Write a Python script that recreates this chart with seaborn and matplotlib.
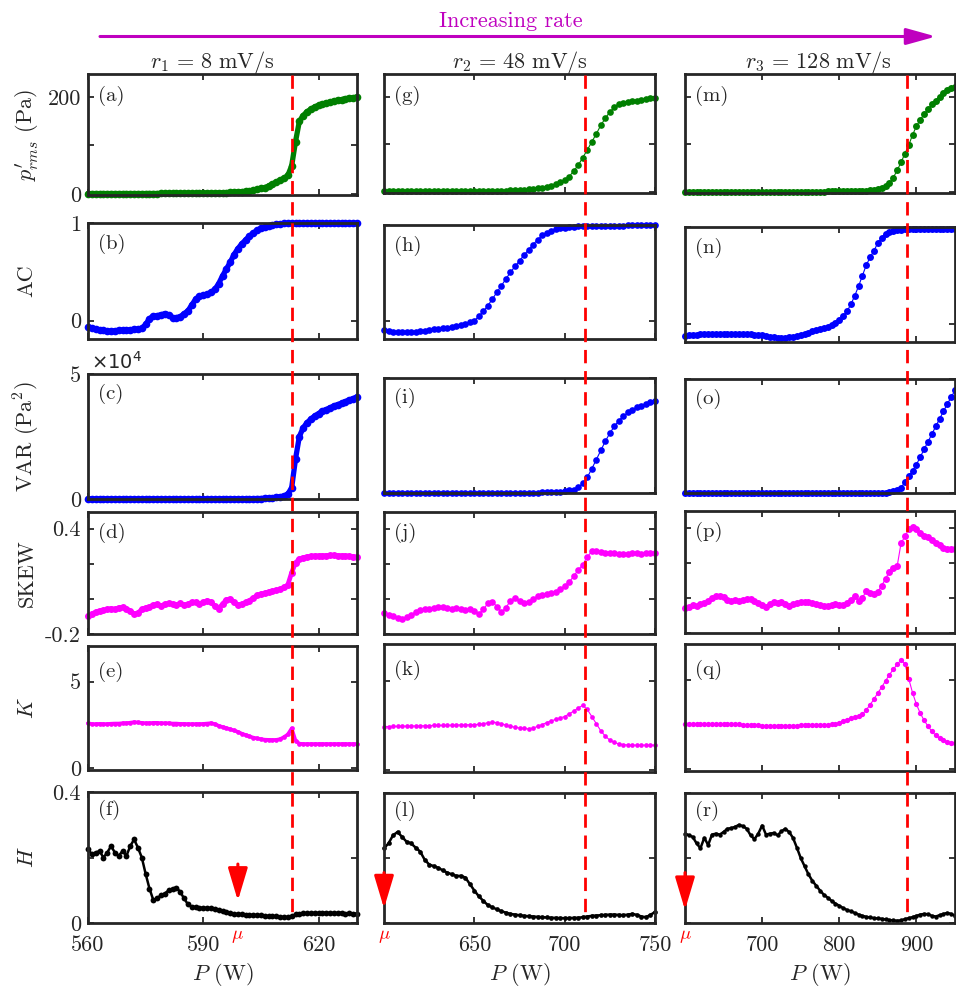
import numpy as np
import matplotlib
matplotlib.use('Agg')
import matplotlib.pyplot as plt
import matplotlib.transforms as mtransforms
from matplotlib.lines import Line2D
from matplotlib.patches import FancyArrowPatch
import seaborn as sns

# ---------------- data ----------------
# column 1 : r1 = 8 mV/s, P sampled every 1 W
P1 = np.arange(560, 631, 1.0)
PRMS1 = [0.5, 0.5, 0.5, 0.5, 0.5, 0.5, 0.5, 0.5, 0.5, 0.5,
         0.5, 0.5, 0.5, 0.5, 0.5, 0.5, 0.6, 0.6, 0.6, 0.7,
         0.7, 0.7, 0.8, 0.8, 0.8, 0.9, 0.9, 1.0, 1.0, 1.0,
         1.0, 1.0, 1.0, 1.5, 2, 2, 2.5, 3, 3.5, 4,
         4.5, 5, 6, 7, 9, 11, 13, 16, 20, 24,
         28, 32, 38, 58, 108, 150, 162, 170, 175, 180,
         183, 186, 188, 190, 192, 194, 195, 197, 198, 199,
         200]
AC1 = [-0.07, -0.08, -0.09, -0.095, -0.10, -0.11, -0.11, -0.105, -0.10, -0.10,
       -0.10, -0.095, -0.09, -0.09, -0.08, -0.04, 0.02, 0.045, 0.05, 0.06,
       0.07, 0.06, 0.03, 0.03, 0.04, 0.07, 0.10, 0.16, 0.22, 0.25,
       0.26, 0.27, 0.29, 0.32, 0.38, 0.46, 0.53, 0.60, 0.68, 0.74,
       0.79, 0.83, 0.87, 0.90, 0.93, 0.95, 0.96, 0.975, 0.985, 0.99,
       0.995, 1, 1, 1, 1, 1, 1, 1, 1, 1,
       1, 1, 1, 1, 1, 1, 1, 1, 1, 1,
       1]
VAR1_E4 = [0, 0, 0, 0, 0, 0, 0, 0, 0, 0,
           0, 0, 0, 0, 0, 0, 0, 0, 0, 0,
           0, 0, 0, 0, 0, 0, 0, 0, 0, 0,
           0, 0, 0, 0, 0, 0.005, 0.005, 0.005, 0.01, 0.01,
           0.01, 0.01, 0.015, 0.015, 0.02, 0.02, 0.03, 0.04, 0.05, 0.07,
           0.09, 0.12, 0.2, 0.45, 1.6, 2.5, 2.85, 3.05, 3.2, 3.32,
           3.42, 3.52, 3.58, 3.65, 3.72, 3.78, 3.83, 3.9, 3.96, 4.02,
           4.08]
SKEW1 = [-0.095, -0.085, -0.075, -0.067, -0.065, -0.06, -0.055, -0.06, -0.05, -0.048,
         -0.055, -0.07, -0.085, -0.08, -0.06, -0.05, -0.045, -0.035, -0.03, -0.04,
         -0.03, -0.025, -0.03, -0.035, -0.025, -0.035, -0.03, -0.02, -0.02, -0.03,
         -0.02, -0.01, -0.02, -0.04, -0.055, -0.03, -0.005, 0.0, -0.02, -0.035,
         -0.03, -0.02, -0.01, 0.005, 0.02, 0.028, 0.032, 0.04, 0.045, 0.048,
         0.055, 0.065, 0.08, 0.15, 0.205, 0.228, 0.235, 0.24, 0.242, 0.245,
         0.245, 0.246, 0.247, 0.248, 0.248, 0.247, 0.246, 0.245, 0.244, 0.24,
         0.238]
K1 = [2.6, 2.55, 2.55, 2.56, 2.55, 2.55, 2.57, 2.58, 2.58, 2.6,
      2.6, 2.63, 2.66, 2.64, 2.62, 2.6, 2.6, 2.62, 2.62, 2.6,
      2.6, 2.6, 2.58, 2.58, 2.56, 2.56, 2.55, 2.55, 2.55, 2.55,
      2.56, 2.58, 2.6, 2.55, 2.45, 2.38, 2.32, 2.25, 2.18, 2.1,
      2.0, 1.92, 1.84, 1.77, 1.72, 1.68, 1.65, 1.64, 1.63, 1.64,
      1.68, 1.8, 1.95, 2.3, 1.6, 1.42, 1.40, 1.40, 1.40, 1.40,
      1.40, 1.40, 1.40, 1.40, 1.40, 1.40, 1.40, 1.40, 1.40, 1.40,
      1.40]
H1 = [0.226, 0.21, 0.215, 0.22, 0.2, 0.215, 0.235, 0.215, 0.205, 0.22,
      0.205, 0.235, 0.255, 0.23, 0.2, 0.15, 0.105, 0.07, 0.075, 0.085,
      0.09, 0.1, 0.105, 0.108, 0.095, 0.075, 0.057, 0.05, 0.048, 0.047,
      0.046, 0.046, 0.045, 0.042, 0.04, 0.036, 0.033, 0.03, 0.028, 0.027,
      0.026, 0.025, 0.025, 0.024, 0.024, 0.023, 0.022, 0.021, 0.02, 0.02,
      0.019, 0.018, 0.018, 0.02, 0.027, 0.029, 0.03, 0.03, 0.03, 0.031,
      0.03, 0.031, 0.032, 0.03, 0.031, 0.03, 0.032, 0.029, 0.03, 0.029,
      0.028]

# column 2 : r2 = 48 mV/s, P sampled every 2.5 W
P2 = np.arange(600, 750.1, 2.5)
PRMS2 = [1, 1, 1, 1, 1, 1, 1, 1, 1, 1,
         1, 1, 1, 1, 1, 1, 1, 1.2, 1.2, 1.3,
         1.3, 1.4, 1.5, 1.6, 1.8, 2, 2.3, 2.6, 3, 3.5,
         4, 4.5, 5, 6, 7, 8.5, 10, 12, 16, 20,
         24, 32, 44, 56, 72, 88, 105, 122, 140, 155,
         168, 178, 184, 188, 190, 191, 192, 193, 195, 197,
         198]
AC2 = [-0.10, -0.11, -0.115, -0.12, -0.12, -0.12, -0.118, -0.115, -0.11, -0.105,
       -0.10, -0.09, -0.085, -0.075, -0.07, -0.06, -0.055, -0.045, -0.03, -0.015,
       0.0, 0.05, 0.10, 0.16, 0.23, 0.30, 0.37, 0.44, 0.51, 0.57,
       0.63, 0.69, 0.745, 0.80, 0.85, 0.895, 0.925, 0.945, 0.96, 0.97,
       0.978, 0.984, 0.988, 0.99, 0.993, 0.995, 0.996, 0.997, 0.998, 0.998,
       0.998, 0.999, 0.999, 0.999, 1, 1, 1, 1, 1, 1,
       1]
VAR2_E4 = [0, 0, 0, 0, 0, 0, 0, 0, 0, 0,
           0, 0, 0, 0, 0, 0, 0, 0, 0, 0,
           0, 0, 0, 0, 0, 0, 0, 0, 0.005, 0.005,
           0.005, 0.01, 0.01, 0.015, 0.02, 0.025, 0.03, 0.04, 0.05, 0.06,
           0.08, 0.11, 0.15, 0.25, 0.42, 0.68, 1.05, 1.45, 1.85, 2.25,
           2.6, 2.9, 3.15, 3.35, 3.5, 3.62, 3.72, 3.8, 3.87, 3.94,
           4.0]
SKEW2 = [-0.08, -0.09, -0.10, -0.11, -0.112, -0.105, -0.09, -0.075, -0.065, -0.06,
         -0.058, -0.05, -0.045, -0.048, -0.05, -0.055, -0.05, -0.058, -0.062, -0.06,
         -0.07, -0.085, -0.06, -0.025, -0.015, -0.045, -0.075, -0.05, -0.01, 0.005,
         -0.01, -0.025, -0.02, 0.0, 0.015, 0.022, 0.028, 0.032, 0.04, 0.055,
         0.075, 0.095, 0.13, 0.165, 0.195, 0.24, 0.27, 0.275, 0.268, 0.263,
         0.26, 0.262, 0.258, 0.256, 0.257, 0.26, 0.262, 0.258, 0.26, 0.261,
         0.261]
K2 = [2.44, 2.44, 2.45, 2.45, 2.46, 2.46, 2.47, 2.47, 2.48, 2.48,
      2.49, 2.50, 2.50, 2.50, 2.51, 2.51, 2.52, 2.53, 2.53, 2.54,
      2.55, 2.56, 2.60, 2.65, 2.68, 2.66, 2.60, 2.52, 2.45, 2.40,
      2.36, 2.33, 2.31, 2.35, 2.45, 2.55, 2.66, 2.75, 2.84, 2.92,
      3.0, 3.15, 3.3, 3.48, 3.62, 3.4, 3.0, 2.6, 2.2, 1.9,
      1.68, 1.55, 1.47, 1.43, 1.41, 1.40, 1.40, 1.40, 1.40, 1.40,
      1.40]
H2 = [0.23, 0.245, 0.27, 0.28, 0.265, 0.25, 0.245, 0.232, 0.22, 0.195,
      0.18, 0.175, 0.17, 0.162, 0.155, 0.15, 0.145, 0.145, 0.14, 0.12,
      0.10, 0.082, 0.068, 0.055, 0.048, 0.042, 0.036, 0.032, 0.028, 0.026,
      0.024, 0.022, 0.021, 0.02, 0.019, 0.018, 0.017, 0.016, 0.016, 0.015,
      0.015, 0.015, 0.016, 0.016, 0.018, 0.02, 0.022, 0.023, 0.024, 0.025,
      0.026, 0.026, 0.025, 0.024, 0.026, 0.028, 0.025, 0.02, 0.018, 0.025,
      0.034]

# column 3 : r3 = 128 mV/s, P sampled every 5 W
P3 = np.arange(600, 950.1, 5.0)
PRMS3 = [0.5, 0.5, 0.5, 0.5, 0.5, 0.5, 0.5, 0.5, 0.5, 0.5,
         0.5, 0.5, 0.5, 0.5, 0.5, 0.5, 0.5, 0.5, 0.5, 0.5,
         0.5, 0.5, 0.5, 0.5, 0.5, 0.5, 0.5, 0.5, 0.5, 0.5,
         0.5, 0.5, 0.5, 0.5, 0.5, 0.6, 0.6, 0.7, 0.7, 0.8,
         0.8, 0.9, 1, 1, 1, 1, 1.5, 2, 3, 4,
         6, 8, 12, 18, 30, 45, 62, 80, 98, 120,
         138, 152, 163, 174, 184, 192, 200, 208, 214, 218,
         221]
AC3 = [-0.125, -0.122, -0.118, -0.115, -0.112, -0.11, -0.11, -0.108, -0.106, -0.105,
       -0.104, -0.104, -0.104, -0.104, -0.105, -0.106, -0.108, -0.11, -0.113, -0.117,
       -0.122, -0.128, -0.135, -0.14, -0.145, -0.147, -0.145, -0.14, -0.133, -0.128,
       -0.12, -0.11, -0.095, -0.08, -0.068, -0.055, -0.045, -0.03, -0.015, 0.005,
       0.035, 0.08, 0.13, 0.2, 0.29, 0.39, 0.5, 0.61, 0.69, 0.76,
       0.84, 0.89, 0.935, 0.955, 0.965, 0.97, 0.975, 0.98, 0.98, 0.98,
       0.98, 0.98, 0.98, 0.98, 0.98, 0.98, 0.98, 0.98, 0.98, 0.98,
       0.98]
VAR3_E4 = [0, 0, 0, 0, 0, 0, 0, 0, 0, 0,
           0, 0, 0, 0, 0, 0, 0, 0, 0, 0,
           0, 0, 0, 0, 0, 0, 0, 0, 0, 0,
           0, 0, 0, 0, 0, 0, 0, 0, 0, 0,
           0, 0, 0, 0, 0, 0, 0, 0, 0.005, 0.005,
           0.005, 0.01, 0.02, 0.04, 0.07, 0.12, 0.22, 0.48, 0.75, 0.97,
           1.25, 1.58, 1.92, 2.25, 2.58, 2.92, 3.25, 3.58, 3.9, 4.2,
           4.5]
SKEW3 = [-0.055, -0.05, -0.04, -0.045, -0.035, -0.03, -0.02, 0.0, 0.01, 0.012,
         0.005, -0.01, -0.015, -0.01, -0.015, -0.01, -0.005, -0.008, -0.02, -0.03,
         -0.04, -0.05, -0.035, -0.025, -0.03, -0.025, -0.035, -0.045, -0.035, -0.03,
         -0.025, -0.022, -0.025, -0.03, -0.035, -0.04, -0.045, -0.045, -0.04, -0.035,
         -0.04, -0.04, -0.03, -0.01, 0.01, -0.02, 0.0, 0.04, 0.03, 0.025,
         0.035, 0.07, 0.11, 0.15, 0.17, 0.18, 0.31, 0.35, 0.39, 0.405,
         0.39, 0.37, 0.355, 0.345, 0.33, 0.315, 0.30, 0.285, 0.278, 0.277,
         0.278]
K3 = [2.52, 2.53, 2.54, 2.54, 2.55, 2.55, 2.56, 2.56, 2.56, 2.55,
      2.55, 2.54, 2.54, 2.53, 2.52, 2.51, 2.50, 2.49, 2.48, 2.47,
      2.46, 2.45, 2.44, 2.44, 2.44, 2.44, 2.45, 2.45, 2.46, 2.46,
      2.47, 2.47, 2.48, 2.48, 2.49, 2.49, 2.50, 2.50, 2.52, 2.56,
      2.62, 2.70, 2.79, 2.86, 2.92, 2.97, 3.10, 3.35, 3.63, 3.95,
      4.30, 4.62, 4.98, 5.32, 5.62, 5.90, 6.15, 5.95, 5.10, 4.30,
      3.65, 3.15, 2.75, 2.42, 2.13, 1.90, 1.74, 1.62, 1.55, 1.50,
      1.47]
H3 = [0.275, 0.27, 0.265, 0.245, 0.23, 0.262, 0.24, 0.272, 0.275, 0.272,
      0.28, 0.29, 0.292, 0.296, 0.302, 0.298, 0.29, 0.27, 0.258, 0.275,
      0.30, 0.272, 0.275, 0.277, 0.27, 0.282, 0.29, 0.28, 0.262, 0.232,
      0.20, 0.175, 0.15, 0.13, 0.115, 0.10, 0.087, 0.078, 0.068, 0.06,
      0.053, 0.046, 0.04, 0.036, 0.031, 0.026, 0.022, 0.019, 0.017, 0.015,
      0.014, 0.013, 0.011, 0.009, 0.008, 0.007, 0.008, 0.012, 0.015, 0.018,
      0.022, 0.026, 0.028, 0.027, 0.022, 0.02, 0.024, 0.028, 0.031, 0.028,
      0.022]

# critical points (dashed lines) and early-warning onsets (mu arrows)
P_CRIT = [613.2, 711.5, 888.0]
P_MU = [599.0, 600.0, 600.0]
MU_ARROW = [(0.18, 0.068), (0.155, 0.045), (0.155, 0.040)]

COL_TITLES = [r'$r_1\,=\,8\ \mathrm{mV/s}$', r'$r_2\,=\,48\ \mathrm{mV/s}$',
              r'$r_3\,=\,128\ \mathrm{mV/s}$']
ROW_LABELS = [r"$p^{\prime}_{rms}$ (Pa)", 'AC', 'VAR (Pa$^2$)', 'SKEW', r'$K$', r'$H$']
PANEL_LETTERS = [['(a)', '(b)', '(c)', '(d)', '(e)', '(f)'],
                 ['(g)', '(h)', '(i)', '(j)', '(k)', '(l)'],
                 ['(m)', '(n)', '(o)', '(p)', '(q)', '(r)']]
XLIMS = [(560, 630), (600, 750), (600, 950)]
XTICKS = [[560, 590, 620], [650, 700, 750], [700, 800, 900]]
YLIMS = [(-2.5, 248), (-0.19, 1.005), (0, 5.0), (-0.2, 0.495), (-0.1, 7.05), (0, 0.4)]
YTICKS = [[0, 100, 200], [0, 1], [0, 5], [-0.2, 0, 0.2, 0.4], [0, 5], [0, 0.2, 0.4]]
YTICKLABELS = [['0', '', '200'], ['0', '1'], ['0', '5'], ['-0.2', '', '', '0.4'],
               ['0', '5'], ['0', '', '0.4']]

COLUMNS = [
    (P1, [PRMS1, AC1, VAR1_E4, SKEW1, K1, H1]),
    (P2, [PRMS2, AC2, VAR2_E4, SKEW2, K2, H2]),
    (P3, [PRMS3, AC3, VAR3_E4, SKEW3, K3, H3]),
]

# ---------------- styling ----------------
ROW_COLORS = ['#007F00', '#0000FF', '#0000FF', '#FF00FF', '#FF00FF', '#000000']
LW = [[3.8, 3.8, 3.8, 3.4, 2.6, 1.8],
      [0.8, 0.8, 0.8, 0.8, 0.8, 1.8],
      [0.8, 0.8, 0.8, 0.8, 0.8, 1.8]]
MS = [[5.5, 5.5, 5.5, 5.0, 3.4, 4.2],
      [4.8, 4.8, 4.8, 4.8, 3.4, 3.4],
      [5.0, 5.0, 5.0, 5.0, 3.8, 3.2]]
MAG = '#BF00BF'
DARK = '#262626'

sns.set_style('ticks')
plt.rcParams['font.family'] = ['cmr10']
plt.rcParams['mathtext.fontset'] = 'cm'
plt.rcParams['axes.unicode_minus'] = False
plt.rcParams['axes.formatter.use_mathtext'] = True

W, H = 956, 992
fig = plt.figure(figsize=(W / 100, H / 100), dpi=100)

COL_X = [(88, 357), (384, 655), (685, 955)]
ROW_Y = [[(74, 195), (74, 193), (74, 193)],
         [(223, 339), (225, 339), (227, 342)],
         [(374, 499), (378, 493), (379, 493)],
         [(512, 634), (512, 634), (511, 633)],
         [(646, 770), (644, 772), (644, 771)],
         [(792, 923), (793, 923), (793, 923)]]
LABEL_DROP = [12, 11, 10, 11, 16, 8]


def rect(x0, x1, y0, y1):
    return [x0 / W, 1 - y1 / H, (x1 - x0) / W, (y1 - y0) / H]


axes = [[None] * 6 for _ in range(3)]
for c in range(3):
    P, series = COLUMNS[c]
    for r in range(6):
        x0, x1 = COL_X[c]
        y0, y1 = ROW_Y[r][c]
        ax = fig.add_axes(rect(x0, x1, y0, y1))
        axes[c][r] = ax
        sns.lineplot(x=P, y=np.asarray(series[r], dtype=float), ax=ax,
                     color=ROW_COLORS[r], linewidth=LW[c][r], marker='o',
                     markersize=MS[c][r], markeredgewidth=0,
                     estimator=None, sort=False, legend=False)
        for ln in ax.lines:
            ln.set_clip_on(False)
        ax.set_xlim(*XLIMS[c])
        ax.set_ylim(*YLIMS[r])
        ax.set_xticks(XTICKS[c])
        ax.set_yticks(YTICKS[r])
        if c == 0:
            ax.set_yticklabels(YTICKLABELS[r])
            ax.set_ylabel(ROW_LABELS[r], fontsize=16, color=DARK, va='center')
            ax.yaxis.set_label_coords((27 - x0) / (x1 - x0), 0.5)
        else:
            ax.set_yticklabels([])
            ax.set_ylabel('')
        if r == 5:
            ax.set_xticklabels([str(t) for t in XTICKS[c]])
            ax.set_xlabel(r'$P$ (W)', fontsize=16, color=DARK, va='center')
            ax.xaxis.set_label_coords(0.5, -(974 - y1) / (y1 - y0))
        else:
            ax.set_xticklabels([])
            ax.set_xlabel('')
        ax.tick_params(axis='both', direction='in', length=4, width=1.3,
                       top=True, right=True, labelsize=16, colors=DARK)
        ax.tick_params(axis='x', pad=9)
        ax.tick_params(axis='y', pad=5)
        for sp in ax.spines.values():
            sp.set_visible(True)
            sp.set_linewidth(2.0)
            sp.set_color(DARK)
        ax.annotate(PANEL_LETTERS[c][r], xy=(0, 1), xycoords='axes fraction',
                    xytext=(7.5, -LABEL_DROP[r] * 0.72), textcoords='offset points',
                    ha='left', va='top', fontsize=15, color=DARK)

    # dashed line marking the tipping point, across the whole column
    tr = mtransforms.blended_transform_factory(axes[c][0].transData, fig.transFigure)
    fig.add_artist(Line2D([P_CRIT[c], P_CRIT[c]], [1 - 75 / H, 1 - 917 / H],
                          transform=tr, color='red', linewidth=2.0,
                          linestyle=(0, (4.8, 2.8)), zorder=5))

    # early-warning arrow and mu label in the H panel
    axh = axes[c][5]
    tail, tip = MU_ARROW[c]
    axh.annotate('', xy=(P_MU[c], tip), xytext=(P_MU[c], tail),
                 arrowprops=dict(arrowstyle='-|>,head_length=1.0,head_width=0.3',
                                 color='red', lw=2.2, mutation_scale=20,
                                 shrinkA=0, shrinkB=0),
                 annotation_clip=False, zorder=6)
    trh = mtransforms.blended_transform_factory(axh.transData, fig.transFigure)
    axh.text(P_MU[c], 1 - 936 / H, r'$\mu$', transform=trh, color='red',
             fontsize=13.5, ha='center', va='center', clip_on=False)

# column titles
for cx, t in zip([212, 520, 818], COL_TITLES):
    fig.text(cx / W, 1 - 68 / H, t, ha='center', va='baseline', fontsize=16,
             color=DARK)

# x10^4 multiplier for VAR
fig.text(91 / W, 1 - 369 / H, r'$\times10^4$', math_fontfamily='dejavusans',
         fontsize=14, ha='left', va='baseline', color=DARK)

# "Increasing rate" arrow
fig.add_artist(FancyArrowPatch((100 / W, 1 - 36.5 / H), (936 / W, 1 - 36.5 / H),
                               transform=fig.transFigure,
                               arrowstyle='-|>,head_length=1.8,head_width=0.5',
                               mutation_scale=10, color=MAG, lw=2.2,
                               shrinkA=0, shrinkB=0))
fig.text(511 / W, 1 - 21 / H, 'Increasing rate', color=MAG, fontsize=16,
         ha='center', va='center')

fig.savefig('out.png', dpi=100)
